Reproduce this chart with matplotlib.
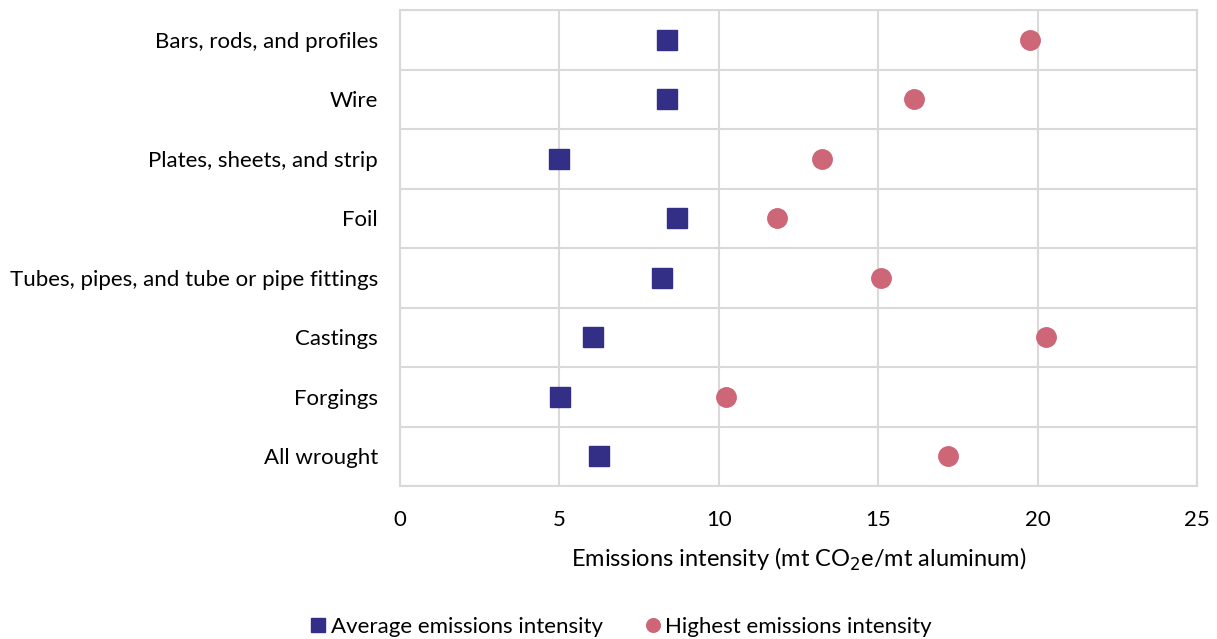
import numpy as np
import matplotlib
matplotlib.use("Agg")
import matplotlib.pyplot as plt
from matplotlib.ticker import FixedLocator

plt.rcParams["font.family"] = ["Lato", "DejaVu Sans"]

categories = [
    "Bars, rods, and profiles",
    "Wire",
    "Plates, sheets, and strip",
    "Foil",
    "Tubes, pipes, and tube or pipe fittings",
    "Castings",
    "Forgings",
    "All wrought",
]
average_intensity = [8.37, 8.37, 4.99, 8.69, 8.22, 6.05, 5.02, 6.24]
highest_intensity = [19.76, 16.12, 13.24, 11.83, 15.09, 20.26, 10.23, 17.19]
x_ticks = [0, 5, 10, 15, 20, 25]

NAVY = "#332E86"
PINK = "#CD6677"
GRID = "#D9D9D9"

fig = plt.figure(figsize=(12.17, 6.39), dpi=100)
ax = fig.add_axes([400 / 1217, 1 - 486 / 639, 797 / 1217, 476 / 639])

y = np.arange(len(categories))
ax.plot(average_intensity, y, linestyle="none", marker="s", markersize=14,
        color=NAVY, label="Average emissions intensity", zorder=3)
ax.plot(highest_intensity, y, linestyle="none", marker="o", markersize=14,
        color=PINK, label="Highest emissions intensity", zorder=3)

ax.set_xlim(0, 25)
ax.set_ylim(len(categories) - 0.5, -0.5)
ax.set_xticks(x_ticks)
ax.set_yticks(y)
ax.set_yticklabels(categories)
ax.yaxis.set_minor_locator(FixedLocator(np.arange(-0.5, len(categories), 1.0)))

ax.grid(axis="x", which="major", color=GRID, linewidth=1.5)
ax.grid(axis="y", which="minor", color=GRID, linewidth=1.5)
ax.set_axisbelow(True)
for s in ax.spines.values():
    s.set_color(GRID)
    s.set_linewidth(1.5)

ax.tick_params(axis="both", which="both", length=0, labelsize=16, colors="#000000")
ax.tick_params(axis="y", pad=16)
ax.tick_params(axis="x", pad=17)

ax.set_xlabel("Emissions intensity (mt CO$_2$e/mt aluminum)", fontsize=17, labelpad=12)

fig.legend(loc="center", bbox_to_anchor=(620 / 1217, 1 - 627 / 639), ncol=2, frameon=False,
           fontsize=16, handletextpad=0.1, columnspacing=1.8, markerscale=0.7,
           handlelength=0.9)

fig.savefig("out.png", dpi=100)
